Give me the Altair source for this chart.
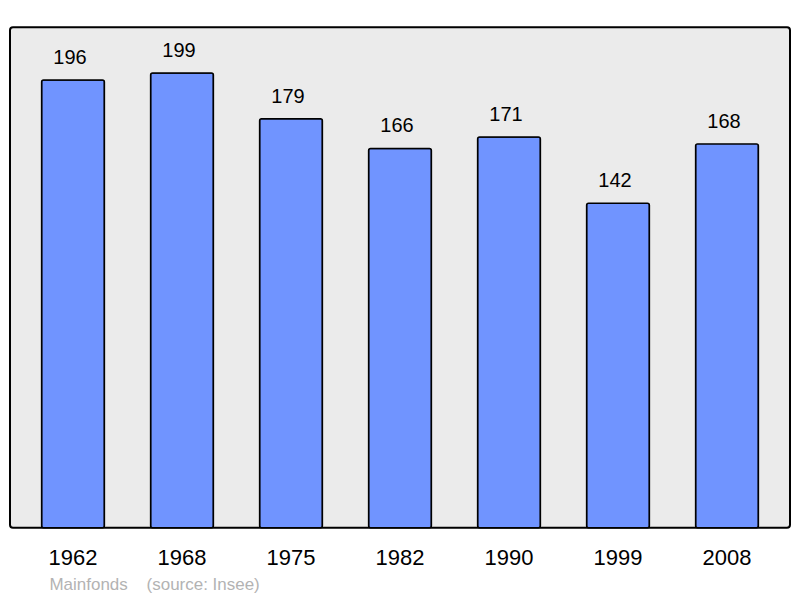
import altair as alt
import pandas as pd

years = ["1962", "1968", "1975", "1982", "1990", "1999", "2008"]
population = [196, 199, 179, 166, 171, 142, 168]

df = pd.DataFrame({"year": years, "pop": population})

FONT = "Liberation Sans"

x_enc = alt.X(
    "year:N",
    sort=years,
    scale=alt.Scale(paddingInner=0.424, paddingOuter=0.29),
    axis=alt.Axis(
        title="Mainfonds\u00a0\u00a0\u00a0\u00a0(source: Insee)",
        titleX=39,
        titleY=62,
        titleAnchor="start",
        titleAlign="left",
        titleBaseline="alphabetic",
        titleFont=FONT,
        titleFontSize=17,
        titleFontWeight="normal",
        titleColor="#b3b3b3",
        labelAngle=0,
        labelFont=FONT,
        labelFontSize=22,
        labelColor="black",
        labelBaseline="alphabetic",
        labelPadding=37,
        ticks=False,
        tickSize=0,
        domain=False,
        grid=False,
    ),
)
y_enc = alt.Y(
    "pop:Q",
    scale=alt.Scale(domain=[0, 219], nice=False, zero=True),
    axis=None,
)

bars = alt.Chart(df).mark_bar(
    color="#7094ff",
    stroke="black",
    strokeWidth=1.5,
    cornerRadius=2,
).encode(x=x_enc, y=y_enc)

labels = alt.Chart(df).mark_text(
    font=FONT,
    fontSize=20,
    color="black",
    baseline="alphabetic",
    align="center",
    dx=-3,
    dy=-16,
).encode(x=alt.X("year:N", sort=years), y=alt.Y("pop:Q"), text="pop:Q")

chart = alt.layer(bars, labels).properties(
    width=781,
    height=501,
    autosize=alt.AutoSizeParams(type="none"),
    padding={"left": 2, "top": 19, "right": 2, "bottom": 70},
).configure_view(
    fill="#ebebeb",
    stroke="black",
    strokeWidth=2,
    cornerRadius=3,
)

chart.save("out.html", embed_options={"renderer": "svg", "actions": False})
